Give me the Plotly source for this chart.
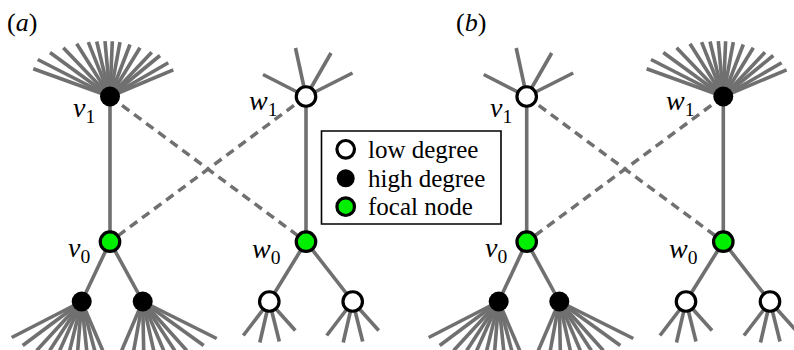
import plotly.graph_objects as go

# ---------------------------------------------------------------
# Node layout (pixel coordinates, y grows downward)
# ---------------------------------------------------------------
node_names = ["v1", "v0", "v0L", "v0R", "w1", "w0", "w0L", "w0R"]

a_node_x = [110.0, 110.0, 81.7, 142.7, 306.0, 306.0, 269.3, 352.7]
a_node_y = [96.5, 241.7, 301.5, 301.5, 96.5, 241.7, 301.5, 301.5]
a_node_kind = ["high", "focal", "high", "high", "low", "focal", "low", "low"]

b_node_x = [526.7, 526.7, 498.7, 559.3, 723.3, 723.3, 686.0, 770.0]
b_node_y = [96.5, 241.7, 301.5, 301.5, 96.5, 241.7, 301.5, 301.5]
b_node_kind = ["low", "focal", "high", "high", "high", "focal", "low", "low"]

solid_edges = [("v1", "v0"), ("v0", "v0L"), ("v0", "v0R"),
               ("w1", "w0"), ("w0", "w0L"), ("w0", "w0R")]
dashed_edges = [("v1", "w0"), ("w1", "v0")]

# Leaf-edge fans, as endpoint offsets from the hub node
hub_up_dx = [-76.7, -72.3, -60.0, -46.7, -33.3, -21.7, -13.3, -5.0, 2.3, 10.0, 20.0, 30.0, 41.7, 50.0, 58.3, 63.3]
hub_up_dy = [-27.7, -37.0, -44.0, -48.7, -52.7, -54.3, -55.0, -55.3, -55.3, -54.3, -52.0, -48.7, -44.3, -41.0, -33.7, -26.7]

hub_down_left_dx = [-70.0, -59.0, -45.0, -32.0, -22.0, -12.0, -4.0, 5.0, 13.0, 21.0]
hub_down_left_dy = [36.0, 44.0, 49.0, 49.0, 49.0, 49.0, 49.0, 49.0, 49.0, 49.0]

hub_down_right_dx = [74.0, 61.0, 44.0, 32.0, 21.0, 11.0, 1.0, -9.0, -21.0]
hub_down_right_dy = [37.0, 44.0, 49.0, 49.0, 49.0, 49.0, 49.0, 49.0, 49.0]

low_up_dx = [-43.0, -10.5, 25.0, 46.5]
low_up_dy = [-22.0, -48.5, -43.5, -23.5]

low_down_dx = [-26.0, -9.5, 10.0, 26.0]
low_down_dy = [34.0, 41.0, 40.0, 29.0]

fans = {
    "hub_up": (hub_up_dx, hub_up_dy),
    "hub_down_left": (hub_down_left_dx, hub_down_left_dy),
    "hub_down_right": (hub_down_right_dx, hub_down_right_dy),
    "low_up": (low_up_dx, low_up_dy),
    "low_down": (low_down_dx, low_down_dy),
}

a_fans = {"v1": "hub_up", "v0L": "hub_down_left", "v0R": "hub_down_right",
          "w1": "low_up", "w0L": "low_down", "w0R": "low_down"}
b_fans = {"v1": "low_up", "v0L": "hub_down_left", "v0R": "hub_down_right",
          "w1": "hub_up", "w0L": "low_down", "w0R": "low_down"}

# Node labels: right edge and vertical middle relative to the node
label_nodes = ["v1", "w1", "v0", "w0"]
label_text = ["<i>v</i><sub>1</sub>", "<i>w</i><sub>1</sub>",
              "<i>v</i><sub>0</sub>", "<i>w</i><sub>0</sub>"]
label_dx = [-13, -27, -18, -23]
label_dy = [13, 6, 8, 9]

panel_tags = ["(<i>a</i>)", "(<i>b</i>)"]
panel_tag_x = [22, 471]

legend_labels = ["low degree", "high degree", "focal node"]
legend_kinds = ["low", "high", "focal"]

# ---------------------------------------------------------------
GRAY = "#707070"
GREEN = "#00ee00"
SERIF = "Liberation Serif"
W, H = 794, 350

fig = go.Figure()


def marker_style(kind, scale):
    if kind == "high":
        return dict(size=20 * scale, color="black", line=dict(width=0))
    if kind == "low":
        return dict(size=19.5 * scale, color="white", line=dict(color="black", width=3.2))
    return dict(size=19.5 * scale, color=GREEN, line=dict(color="black", width=3.2))


def panel_traces(xs, ys, fan_map):
    pos = {n: (x, y) for n, x, y in zip(node_names, xs, ys)}
    sx, sy = [], []
    for n, key in fan_map.items():
        cx, cy = pos[n]
        dxs, dys = fans[key]
        for dx, dy in zip(dxs, dys):
            sx += [cx, cx + dx, None]
            sy += [cy, cy + dy, None]
    for a, b in solid_edges:
        sx += [pos[a][0], pos[b][0], None]
        sy += [pos[a][1], pos[b][1], None]
    fig.add_trace(go.Scatter(x=sx, y=sy, mode="lines",
                             line=dict(color=GRAY, width=3.6),
                             hoverinfo="skip", showlegend=False))
    qx, qy = [], []
    for a, b in dashed_edges:
        qx += [pos[a][0], pos[b][0], None]
        qy += [pos[a][1], pos[b][1], None]
    fig.add_trace(go.Scatter(x=qx, y=qy, mode="lines",
                             line=dict(color=GRAY, width=3.5, dash="9px,6px"),
                             hoverinfo="skip", showlegend=False))
    return pos


def node_markers(xs, ys, kinds):
    for kind in ["high", "low", "focal"]:
        px = [x for x, k in zip(xs, kinds) if k == kind]
        py = [y for y, k in zip(ys, kinds) if k == kind]
        fig.add_trace(go.Scatter(x=px, y=py, mode="markers",
                                 marker=marker_style(kind, 1.0),
                                 hoverinfo="skip", showlegend=False))


annotations = []
for xs, ys, kinds, fmap in [(a_node_x, a_node_y, a_node_kind, a_fans),
                            (b_node_x, b_node_y, b_node_kind, b_fans)]:
    pos = panel_traces(xs, ys, fmap)
    node_markers(xs, ys, kinds)
    for n, t, ldx, ldy in zip(label_nodes, label_text, label_dx, label_dy):
        annotations.append(dict(x=pos[n][0] + ldx, y=pos[n][1] + ldy, text=t,
                                xanchor="right", yanchor="middle", showarrow=False,
                                font=dict(family=SERIF, size=28, color="black")))

for t, x in zip(panel_tags, panel_tag_x):
    annotations.append(dict(x=x, y=22, text=t, xanchor="center", yanchor="middle",
                            showarrow=False, font=dict(family=SERIF, size=26, color="black")))

# Legend box drawn in data coordinates
legend_y = [149.3, 178.3, 206.7]
for lbl, kind, ly in zip(legend_labels, legend_kinds, legend_y):
    fig.add_trace(go.Scatter(x=[345.7], y=[ly], mode="markers",
                             marker=marker_style(kind, 0.9),
                             hoverinfo="skip", showlegend=False))
    annotations.append(dict(x=366, y=ly, text=lbl, xanchor="left", yanchor="middle",
                            showarrow=False, font=dict(family=SERIF, size=25, color="black")))

shapes = [dict(type="rect", x0=321.5, x1=501, y0=131, y1=224,
               line=dict(color="black", width=1.6), fillcolor="rgba(0,0,0,0)", layer="below")]

fig.update_layout(
    width=W, height=H,
    margin=dict(l=0, r=0, t=0, b=0),
    paper_bgcolor="white", plot_bgcolor="white",
    xaxis=dict(range=[0, W], visible=False, fixedrange=True),
    yaxis=dict(range=[H, 0], visible=False, fixedrange=True),
    annotations=annotations, shapes=shapes,
    showlegend=False,
)

fig.write_html("out.html", config={"displayModeBar": False})
